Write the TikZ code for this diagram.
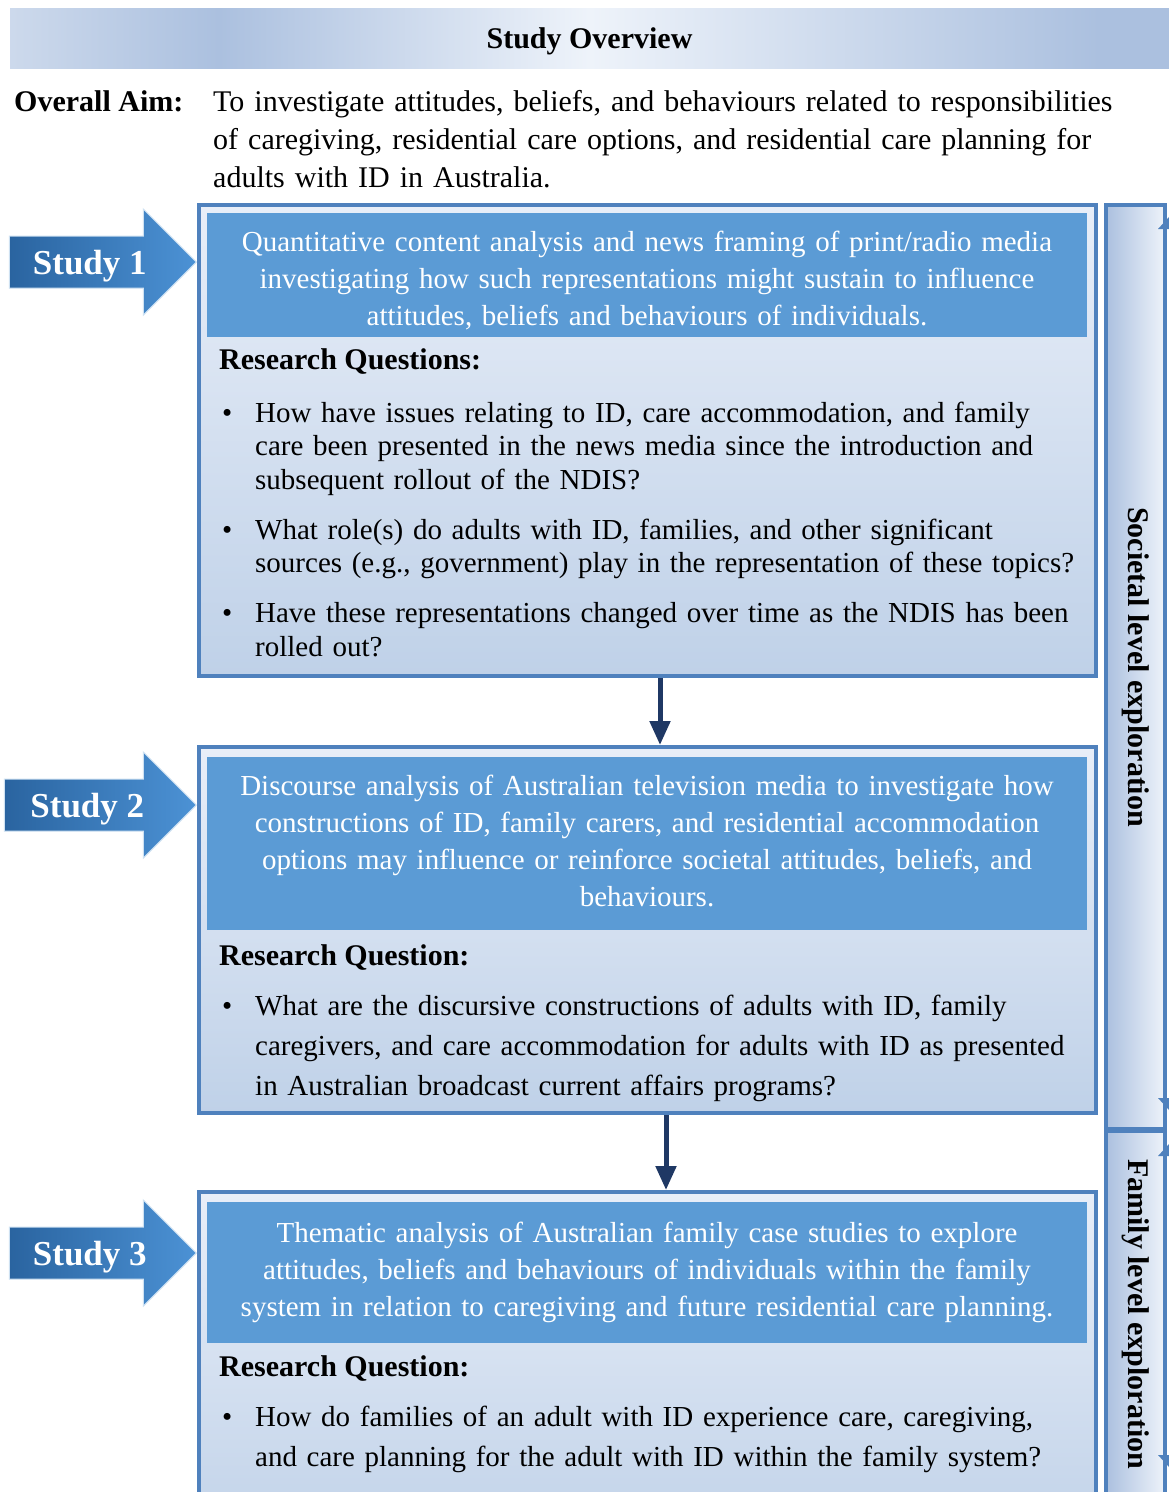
\documentclass[tikz,border=0pt]{standalone}
\usepackage{fontspec}
\setmainfont{Liberation Serif}
\usetikzlibrary{shapes.arrows,arrows.meta}

\definecolor{boxblue}{HTML}{4F81BD}
\definecolor{headblue}{HTML}{5B9BD5}
\definecolor{navy}{HTML}{1F3864}
\definecolor{bandblue}{HTML}{ABC0DF}
\definecolor{bandlight}{HTML}{EEF3FA}
\definecolor{bodytop}{HTML}{E8EEF8}
\definecolor{bodybot}{HTML}{BFD1E8}
\definecolor{armdark}{HTML}{2A64A0}
\definecolor{armlight}{HTML}{4C92D5}

\pgfdeclarehorizontalshading{overviewband}{100bp}{color(0bp)=(bandblue!60!white); color(25bp)=(bandblue!60!white); color(34bp)=(bandblue); color(50bp)=(bandlight); color(72bp)=(bandblue); color(100bp)=(bandblue)}

\newcommand{\rqitem}{\hangindent=36pt\hangafter=1\noindent\hspace*{3pt}\makebox[33pt][l]{\textbullet}\strut}

\tikzset{
  studybox/.style={draw=boxblue, line width=4pt, top color=bodytop, bottom color=bodybot, minimum width=897pt, inner sep=0pt},
  headbox/.style={fill=headblue, text=white, minimum width=880pt, text width=880pt, align=center, inner sep=0pt, font=\fontsize{29}{37}\selectfont},
  rqhead/.style={anchor=base west, inner sep=0pt, font=\bfseries\fontsize{30}{36}\selectfont},
  rqlist/.style={anchor=north west, inner sep=0pt, text width=865pt},
  studyarrow/.style={single arrow, anchor=tip, single arrow head extend=27pt, minimum height=187pt, minimum width=105pt, text height=25pt, text depth=0pt, inner ysep=13pt, inner xsep=4pt, left color=armdark, right color=armlight, draw=white!70!headblue, line width=1pt, text=white, font=\bfseries\fontsize{35}{40}\selectfont},
  levelbar/.style={draw=boxblue, line width=4pt, left color=bandblue, right color=bandlight, rotate=-90, minimum height=59pt, inner sep=0pt, font=\bfseries\fontsize{30}{36}\selectfont},
  flow/.style={draw=navy, line width=5pt, -{Triangle[width=20pt,length=24pt]}}
}

\begin{document}
\begin{tikzpicture}[x=1pt, y=-1pt]
  \useasboundingbox (0,0) rectangle (1169,1492);
  \clip (0,0) rectangle (1169,1492);
  \fill[white] (0,0) rectangle (1169,1492);

  \node[shading=overviewband, minimum width=1159pt, minimum height=60pt, inner sep=0pt, text height=22pt, text depth=2pt, font=\bfseries\fontsize{30}{36}\selectfont] (overview) at (589.5,38) {Study Overview};

  \node[anchor=base west, inner sep=0pt, font=\bfseries\fontsize{30}{38}\selectfont] (aimlabel) at (14,111) {Overall Aim:};
  \node[anchor=north west, inner sep=0pt, text width=940pt, align=left, font=\fontsize{30}{38}\selectfont] (aim) at (213,84.4) {\strut To investigate attitudes, beliefs, and behaviours related to responsibilities\\of caregiving, residential care options, and residential care planning for\\adults with ID in Australia.};

  % study 1
  \node[studybox, minimum height=471pt] (s1) at (647.5,440.5) {};
  \node[headbox, minimum height=123pt] (h1) at (647,274.5) {\rule{0pt}{38.9pt}Quantitative content analysis and news framing of print/radio media\\investigating how such representations might sustain to influence\\attitudes, beliefs and behaviours of individuals.\strut};
  \node[rqhead] (q1) at (219,369) {Research Questions:};
  \node[rqlist, font=\fontsize{29}{33.5}\selectfont] (l1) at (219,398.5) {\setlength{\parskip}{16.5pt}%
    \rqitem How have issues relating to ID, care accommodation, and family\newline care been presented in the news media since the introduction and\newline subsequent rollout of the NDIS?\par
    \rqitem What role(s) do adults with ID, families, and other significant\newline sources (e.g., government) play in the representation of these topics?\par
    \rqitem Have these representations changed over time as the NDIS has been\newline rolled out?\par};
  \node[studyarrow] (st1) at (197,262) {Study 1};

  % study 2
  \node[studybox, minimum height=366pt] (s2) at (647.5,930) {};
  \node[headbox, minimum height=173pt] (h2) at (647,843.5) {\strut Discourse analysis of Australian television media to investigate how\\constructions of ID, family carers, and residential accommodation\\options may influence or reinforce societal attitudes, beliefs, and\\behaviours.\strut};
  \node[rqhead] (q2) at (219,965) {Research Question:};
  \node[rqlist, font=\fontsize{29}{40}\selectfont] (l2) at (219,987) {%
    \rqitem What are the discursive constructions of adults with ID, family\newline caregivers, and care accommodation for adults with ID as presented\newline in Australian broadcast current affairs programs?\par};
  \node[studyarrow, minimum height=192pt] (st2) at (197,805) {Study 2};

  % study 3
  \node[studybox, minimum height=368pt] (s3) at (647.5,1376) {};
  \node[headbox, minimum height=141pt] (h3) at (647,1272.5) {\strut Thematic analysis of Australian family case studies to explore\\attitudes, beliefs and behaviours of individuals within the family\\system in relation to caregiving and future residential care planning.\strut};
  \node[rqhead] (q3) at (219,1376) {Research Question:};
  \node[rqlist, font=\fontsize{29}{40}\selectfont] (l3) at (219,1398) {%
    \rqitem How do families of an adult with ID experience care, caregiving,\newline and care planning for the adult with ID within the family system?\par};
  \node[studyarrow] (st3) at (197,1253) {Study 3};

  \draw[flow] ([xshift=12.5pt]s1.south) -- ([xshift=12.5pt]s2.north);
  \draw[flow] ([xshift=18.5pt]s2.south) -- ([xshift=18.5pt]s3.north);

  % level bars
  \node[levelbar, minimum width=924pt] (societal) at (1135.5,667) {Societal level exploration};
  \node[levelbar, minimum width=366pt] (family) at (1135.5,1314) {Family level exploration};
  \fill[boxblue] (1158,229) -- (1169,217) -- (1169,229) -- cycle;
  \fill[boxblue] (1158,1098) -- (1169,1098) -- (1169,1110) -- cycle;
  \fill[boxblue] (1158,1156) -- (1169,1144) -- (1169,1156) -- cycle;
  \fill[boxblue] (1158,1455) -- (1169,1455) -- (1169,1467) -- cycle;
\end{tikzpicture}
\end{document}
